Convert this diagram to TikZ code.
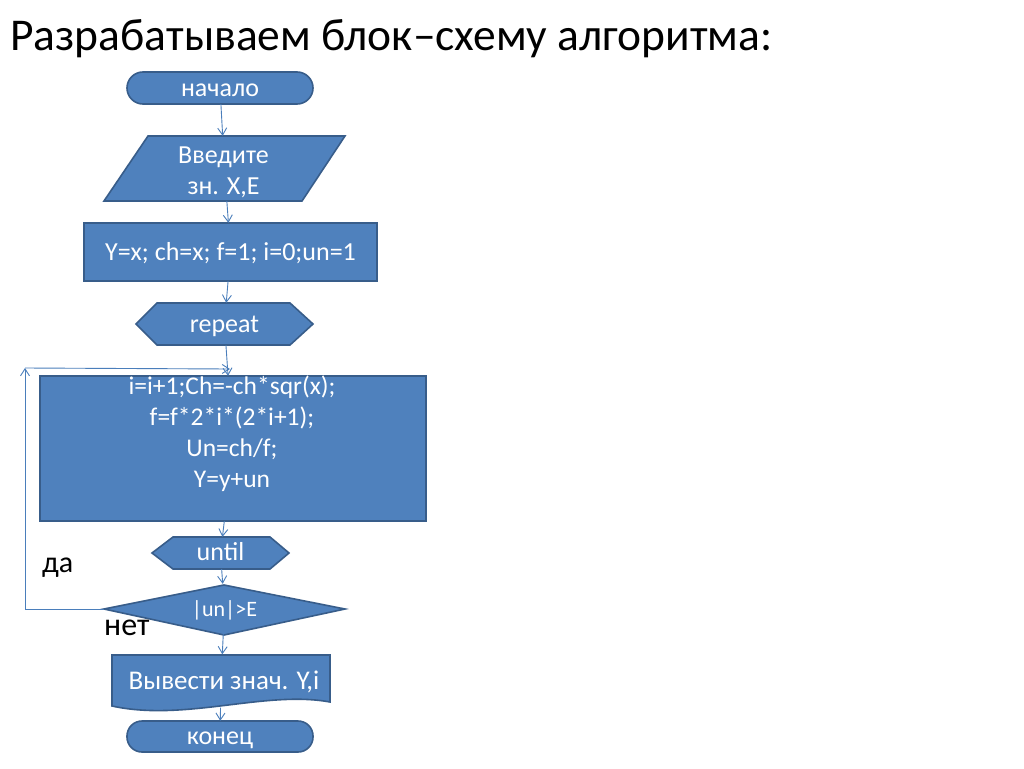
\documentclass[tikz,border=0pt]{standalone}
\usepackage{fontspec}
\setmainfont{Carlito}
\usetikzlibrary{arrows.meta,calc}
\definecolor{fillblue}{HTML}{4F81BD}
\definecolor{edgeblue}{HTML}{385D8A}
\definecolor{arrblue}{HTML}{4A7EBB}
\begin{document}
\begin{tikzpicture}[x=1pt,y=-1pt,
 shp/.style={fill=fillblue,draw=edgeblue,line width=1.6pt},
 box/.style={draw=none,inner sep=0pt},
 txt/.style={text=white,inner sep=0pt,font=\fontsize{26}{31}\selectfont,text height=16pt,text depth=0pt},
 mtxt/.style={text=white,inner sep=0pt,align=center,font=\fontsize{26}{31}\selectfont},
 arr/.style={draw=arrblue,line width=0.9pt,-{Straight Barb[length=7pt,width=9pt]}},
 lbl/.style={text=black,inner sep=0pt,font=\fontsize{32}{36}\selectfont,anchor=base west}]
\useasboundingbox[fill=white] (0,0) rectangle (1024,768);
\node[anchor=base west,inner sep=0pt,font=\fontsize{45.5}{50}\selectfont] (title) at (10,50) {Разрабатываем блок–схему алгоритма:};

\draw[shp,rounded corners=16pt] (127,72) rectangle (313,104);
\node[box,minimum width=186pt,minimum height=32pt,label={[txt]center:начало}] (start) at (220,88) {};

\draw[shp] (148,136) -- (345,136) -- (302,201) -- (104,201) -- cycle;
\node[box,minimum width=241pt,minimum height=65pt,label={[mtxt,yshift=-3.5pt,xshift=-1pt]center:{Введите\\зн. X,E}}] (in) at (224.5,168.5) {};

\draw[shp] (84,223) rectangle (377,281);
\node[box,minimum width=293pt,minimum height=58pt,label={[txt]center:{Y=x; ch=x; f=1; i=0;un=1}}] (init) at (230.5,252) {};

\draw[shp] (136,324) -- (157,303) -- (290,303) -- (313,324) -- (290,345) -- (157,345) -- cycle;
\node[box,minimum width=177pt,minimum height=42pt,label={[txt]center:repeat}] (rep) at (224.5,324) {};

\draw[shp] (40,376) rectangle (426,521);
\node[box,minimum width=386pt,minimum height=145pt,label={[mtxt,font=\fontsize{25.5}{31}\selectfont,yshift=15pt,xshift=-1pt]center:{i=i+1;Ch=-ch*sqr(x);\\f=f*2*i*(2*i+1);\\Un=ch/f;\\Y=y+un}}] (body) at (233,448.5) {};

\draw[shp] (152,553) -- (173,537) -- (270,537) -- (289,553) -- (270,569) -- (173,569) -- cycle;
\node[box,minimum width=137pt,minimum height=32pt,label={[txt,text height=15pt]center:until}] (until) at (220.5,553) {};

\draw[shp] (104,609) -- (224,585) -- (345,609) -- (224,635) -- cycle;
\node[box,minimum width=241pt,minimum height=50pt,label={[txt,font=\fontsize{22}{24}\selectfont,text height=14pt]center:{|un|>E}}] (cond) at (224.5,609) {};

\draw[shp] (112,655) -- (330,655) -- (330,702) .. controls (265,690) and (185,722) .. (112,706) -- cycle;
\node[box,minimum width=218pt,minimum height=53pt,label={[txt,xshift=3pt,font=\fontsize{27}{31}\selectfont]center:{Вывести знач. Y,i}}] (out) at (221,681) {};

\draw[shp,rounded corners=15pt] (127,721) rectangle (313,752);
\node[box,minimum width=186pt,minimum height=31pt,label={[txt]center:конец}] (stop) at (220,736.5) {};

\draw[arr] (start) -- (in);
\draw[arr] (in) -- (init);
\draw[arr] (init) -- (rep);
\draw[arr] (rep) -- (body);
\draw[arr] (body) -- (until);
\draw[arr] (until) -- (cond);
\draw[arr] (cond) -- (out);
\draw[arr] (out) -- (stop);

\coordinate (lp) at (25,368);
\coordinate (lq) at (230,369);
\draw[arr] (cond.west) -| (lp);
\draw[arr] (lp) -- (lq);

\node[lbl,font=\fontsize{30}{36}\selectfont] (yes) at (42,572) {да};
\node[lbl] (no) at (104,635) {нет};
\end{tikzpicture}
\end{document}
